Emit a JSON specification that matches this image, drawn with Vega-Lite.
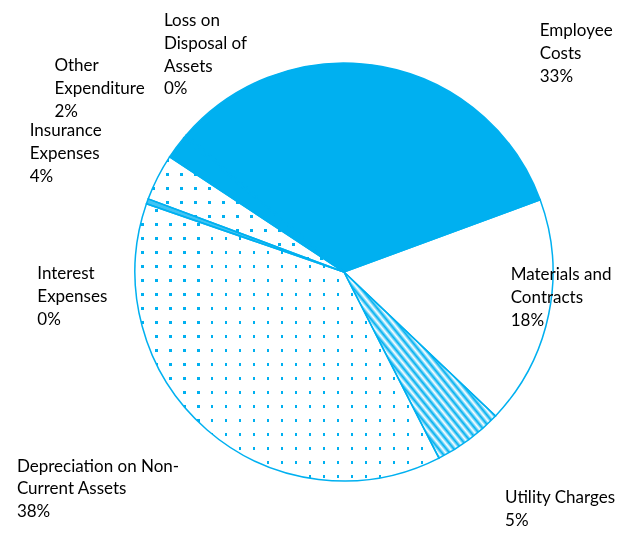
{
  "$schema": "https://vega.github.io/schema/vega-lite/v6.json",
  "width": 560,
  "height": 522,
  "autosize": {"type": "none"},
  "padding": {"left": 64, "right": 0, "top": 11, "bottom": 0},
  "background": "white",
  "view": {"stroke": null},
  "data": {
    "values": [
      {"cat": "Employee Costs", "value": 33.0, "order": 1, "label": "Employee\nCosts\n33%"},
      {"cat": "Materials and Contracts", "value": 17.7, "order": 2, "label": "Materials and\nContracts\n18%"},
      {"cat": "Utility Charges", "value": 5.4, "order": 3, "label": "Utility Charges\n5%"},
      {"cat": "Depreciation on Non-Current Assets", "value": 37.8, "order": 4, "label": "Depreciation on Non-\nCurrent Assets\n38%"},
      {"cat": "Interest Expenses", "value": 0.4, "order": 5, "label": "Interest\nExpenses\n0%"},
      {"cat": "Insurance Expenses", "value": 3.6, "order": 6, "label": "Insurance\nExpenses\n4%"},
      {"cat": "Other Expenditure", "value": 1.8, "order": 7, "label": "Other\nExpenditure\n2%"},
      {"cat": "Loss on Disposal of Assets", "value": 0.3, "order": 8, "label": "Loss on\nDisposal of\nAssets\n0%"}
    ]
  },
  "encoding": {
    "theta": {"field": "value", "type": "quantitative", "stack": true, "scale": {"range": [-0.8552, 5.4280]}},
    "order": {"field": "order", "type": "quantitative"}
  },
  "layer": [
    {
      "mark": {"type": "arc", "outerRadius": 209, "strokeWidth": 0},
      "encoding": {
        "fill": {
          "field": "cat", "type": "nominal", "legend": null,
          "scale": {
            "domain": ["Employee Costs", "Materials and Contracts", "Utility Charges", "Depreciation on Non-Current Assets", "Interest Expenses", "Insurance Expenses", "Other Expenditure", "Loss on Disposal of Assets"],
            "range": ["#00b0f0", "#ffffff", "#80d8f8", "#f0faff", "#40c4f4", "#f0faff", "#00b0f0", "#00b0f0"]
          },
          "condition": [
            {"test": "datum.cat === 'Utility Charges'", "value": {"gradient": "linear", "x1": 0, "y1": 1, "x2": 1, "y2": 0, "stops": [
              {"offset": 0, "color": "#ffffff"}, {"offset": 0.0125, "color": "#00b0f0"}, {"offset": 0.025, "color": "#ffffff"}, {"offset": 0.0375, "color": "#00b0f0"},
              {"offset": 0.05, "color": "#ffffff"}, {"offset": 0.0625, "color": "#00b0f0"}, {"offset": 0.075, "color": "#ffffff"}, {"offset": 0.0875, "color": "#00b0f0"},
              {"offset": 0.1, "color": "#ffffff"}, {"offset": 0.1125, "color": "#00b0f0"}, {"offset": 0.125, "color": "#ffffff"}, {"offset": 0.1375, "color": "#00b0f0"},
              {"offset": 0.15, "color": "#ffffff"}, {"offset": 0.1625, "color": "#00b0f0"}, {"offset": 0.175, "color": "#ffffff"}, {"offset": 0.1875, "color": "#00b0f0"},
              {"offset": 0.2, "color": "#ffffff"}, {"offset": 0.2125, "color": "#00b0f0"}, {"offset": 0.225, "color": "#ffffff"}, {"offset": 0.2375, "color": "#00b0f0"},
              {"offset": 0.25, "color": "#ffffff"}, {"offset": 0.2625, "color": "#00b0f0"}, {"offset": 0.275, "color": "#ffffff"}, {"offset": 0.2875, "color": "#00b0f0"},
              {"offset": 0.3, "color": "#ffffff"}, {"offset": 0.3125, "color": "#00b0f0"}, {"offset": 0.325, "color": "#ffffff"}, {"offset": 0.3375, "color": "#00b0f0"},
              {"offset": 0.35, "color": "#ffffff"}, {"offset": 0.3625, "color": "#00b0f0"}, {"offset": 0.375, "color": "#ffffff"}, {"offset": 0.3875, "color": "#00b0f0"},
              {"offset": 0.4, "color": "#ffffff"}, {"offset": 0.4125, "color": "#00b0f0"}, {"offset": 0.425, "color": "#ffffff"}, {"offset": 0.4375, "color": "#00b0f0"},
              {"offset": 0.45, "color": "#ffffff"}, {"offset": 0.4625, "color": "#00b0f0"}, {"offset": 0.475, "color": "#ffffff"}, {"offset": 0.4875, "color": "#00b0f0"},
              {"offset": 0.5, "color": "#ffffff"}, {"offset": 0.5125, "color": "#00b0f0"}, {"offset": 0.525, "color": "#ffffff"}, {"offset": 0.5375, "color": "#00b0f0"},
              {"offset": 0.55, "color": "#ffffff"}, {"offset": 0.5625, "color": "#00b0f0"}, {"offset": 0.575, "color": "#ffffff"}, {"offset": 0.5875, "color": "#00b0f0"},
              {"offset": 0.6, "color": "#ffffff"}, {"offset": 0.6125, "color": "#00b0f0"}, {"offset": 0.625, "color": "#ffffff"}, {"offset": 0.6375, "color": "#00b0f0"},
              {"offset": 0.65, "color": "#ffffff"}, {"offset": 0.6625, "color": "#00b0f0"}, {"offset": 0.675, "color": "#ffffff"}, {"offset": 0.6875, "color": "#00b0f0"},
              {"offset": 0.7, "color": "#ffffff"}, {"offset": 0.7125, "color": "#00b0f0"}, {"offset": 0.725, "color": "#ffffff"}, {"offset": 0.7375, "color": "#00b0f0"},
              {"offset": 0.75, "color": "#ffffff"}, {"offset": 0.7625, "color": "#00b0f0"}, {"offset": 0.775, "color": "#ffffff"}, {"offset": 0.7875, "color": "#00b0f0"},
              {"offset": 0.8, "color": "#ffffff"}, {"offset": 0.8125, "color": "#00b0f0"}, {"offset": 0.825, "color": "#ffffff"}, {"offset": 0.8375, "color": "#00b0f0"},
              {"offset": 0.85, "color": "#ffffff"}, {"offset": 0.8625, "color": "#00b0f0"}, {"offset": 0.875, "color": "#ffffff"}, {"offset": 0.8875, "color": "#00b0f0"},
              {"offset": 0.9, "color": "#ffffff"}, {"offset": 0.9125, "color": "#00b0f0"}, {"offset": 0.925, "color": "#ffffff"}, {"offset": 0.9375, "color": "#00b0f0"},
              {"offset": 0.95, "color": "#ffffff"}, {"offset": 0.9625, "color": "#00b0f0"}, {"offset": 0.975, "color": "#ffffff"}, {"offset": 0.9875, "color": "#00b0f0"},
              {"offset": 1, "color": "#ffffff"}
            ]}},
            {"test": "datum.cat === 'Depreciation on Non-Current Assets'", "value": {"gradient": "linear", "x1": 0, "y1": 0, "x2": 0, "y2": 1, "stops": [
              {"offset": 0.02, "color": "#ffffff"}, {"offset": 0.02, "color": "#00b0f0"}, {"offset": 0.029, "color": "#00b0f0"}, {"offset": 0.029, "color": "#ffffff"},
              {"offset": 0.0705, "color": "#ffffff"}, {"offset": 0.0705, "color": "#00b0f0"}, {"offset": 0.0795, "color": "#00b0f0"}, {"offset": 0.0795, "color": "#ffffff"},
              {"offset": 0.121, "color": "#ffffff"}, {"offset": 0.121, "color": "#00b0f0"}, {"offset": 0.13, "color": "#00b0f0"}, {"offset": 0.13, "color": "#ffffff"},
              {"offset": 0.1715, "color": "#ffffff"}, {"offset": 0.1715, "color": "#00b0f0"}, {"offset": 0.1805, "color": "#00b0f0"}, {"offset": 0.1805, "color": "#ffffff"},
              {"offset": 0.222, "color": "#ffffff"}, {"offset": 0.222, "color": "#00b0f0"}, {"offset": 0.231, "color": "#00b0f0"}, {"offset": 0.231, "color": "#ffffff"},
              {"offset": 0.2725, "color": "#ffffff"}, {"offset": 0.2725, "color": "#00b0f0"}, {"offset": 0.2815, "color": "#00b0f0"}, {"offset": 0.2815, "color": "#ffffff"},
              {"offset": 0.323, "color": "#ffffff"}, {"offset": 0.323, "color": "#00b0f0"}, {"offset": 0.332, "color": "#00b0f0"}, {"offset": 0.332, "color": "#ffffff"},
              {"offset": 0.3735, "color": "#ffffff"}, {"offset": 0.3735, "color": "#00b0f0"}, {"offset": 0.3825, "color": "#00b0f0"}, {"offset": 0.3825, "color": "#ffffff"},
              {"offset": 0.424, "color": "#ffffff"}, {"offset": 0.424, "color": "#00b0f0"}, {"offset": 0.433, "color": "#00b0f0"}, {"offset": 0.433, "color": "#ffffff"},
              {"offset": 0.4745, "color": "#ffffff"}, {"offset": 0.4745, "color": "#00b0f0"}, {"offset": 0.4835, "color": "#00b0f0"}, {"offset": 0.4835, "color": "#ffffff"},
              {"offset": 0.525, "color": "#ffffff"}, {"offset": 0.525, "color": "#00b0f0"}, {"offset": 0.534, "color": "#00b0f0"}, {"offset": 0.534, "color": "#ffffff"},
              {"offset": 0.5755, "color": "#ffffff"}, {"offset": 0.5755, "color": "#00b0f0"}, {"offset": 0.5845, "color": "#00b0f0"}, {"offset": 0.5845, "color": "#ffffff"},
              {"offset": 0.626, "color": "#ffffff"}, {"offset": 0.626, "color": "#00b0f0"}, {"offset": 0.635, "color": "#00b0f0"}, {"offset": 0.635, "color": "#ffffff"},
              {"offset": 0.6765, "color": "#ffffff"}, {"offset": 0.6765, "color": "#00b0f0"}, {"offset": 0.6855, "color": "#00b0f0"}, {"offset": 0.6855, "color": "#ffffff"},
              {"offset": 0.727, "color": "#ffffff"}, {"offset": 0.727, "color": "#00b0f0"}, {"offset": 0.736, "color": "#00b0f0"}, {"offset": 0.736, "color": "#ffffff"},
              {"offset": 0.7775, "color": "#ffffff"}, {"offset": 0.7775, "color": "#00b0f0"}, {"offset": 0.7865, "color": "#00b0f0"}, {"offset": 0.7865, "color": "#ffffff"},
              {"offset": 0.828, "color": "#ffffff"}, {"offset": 0.828, "color": "#00b0f0"}, {"offset": 0.837, "color": "#00b0f0"}, {"offset": 0.837, "color": "#ffffff"},
              {"offset": 0.8785, "color": "#ffffff"}, {"offset": 0.8785, "color": "#00b0f0"}, {"offset": 0.8875, "color": "#00b0f0"}, {"offset": 0.8875, "color": "#ffffff"},
              {"offset": 0.929, "color": "#ffffff"}, {"offset": 0.929, "color": "#00b0f0"}, {"offset": 0.938, "color": "#00b0f0"}, {"offset": 0.938, "color": "#ffffff"},
              {"offset": 0.9795, "color": "#ffffff"}, {"offset": 0.9795, "color": "#00b0f0"}, {"offset": 0.9885, "color": "#00b0f0"}, {"offset": 0.9885, "color": "#ffffff"}
            ]}},
            {"test": "datum.cat === 'Insurance Expenses'", "value": {"gradient": "linear", "x1": 0, "y1": 0, "x2": 0, "y2": 1, "stops": [
              {"offset": 0.02, "color": "#ffffff"}, {"offset": 0.02, "color": "#00b0f0"}, {"offset": 0.0417, "color": "#00b0f0"}, {"offset": 0.0417, "color": "#ffffff"},
              {"offset": 0.1417, "color": "#ffffff"}, {"offset": 0.1417, "color": "#00b0f0"}, {"offset": 0.1634, "color": "#00b0f0"}, {"offset": 0.1634, "color": "#ffffff"},
              {"offset": 0.2634, "color": "#ffffff"}, {"offset": 0.2634, "color": "#00b0f0"}, {"offset": 0.2851, "color": "#00b0f0"}, {"offset": 0.2851, "color": "#ffffff"},
              {"offset": 0.3851, "color": "#ffffff"}, {"offset": 0.3851, "color": "#00b0f0"}, {"offset": 0.4068, "color": "#00b0f0"}, {"offset": 0.4068, "color": "#ffffff"},
              {"offset": 0.5068, "color": "#ffffff"}, {"offset": 0.5068, "color": "#00b0f0"}, {"offset": 0.5285, "color": "#00b0f0"}, {"offset": 0.5285, "color": "#ffffff"},
              {"offset": 0.6285, "color": "#ffffff"}, {"offset": 0.6285, "color": "#00b0f0"}, {"offset": 0.6502, "color": "#00b0f0"}, {"offset": 0.6502, "color": "#ffffff"},
              {"offset": 0.7502, "color": "#ffffff"}, {"offset": 0.7502, "color": "#00b0f0"}, {"offset": 0.7719, "color": "#00b0f0"}, {"offset": 0.7719, "color": "#ffffff"},
              {"offset": 0.8719, "color": "#ffffff"}, {"offset": 0.8719, "color": "#00b0f0"}, {"offset": 0.8936, "color": "#00b0f0"}, {"offset": 0.8936, "color": "#ffffff"}
            ]}}
          ]
        }
      }
    },
    {
      "mark": {"type": "arc", "outerRadius": 209, "strokeWidth": 0, "blend": "lighten"},
      "encoding": {
        "fill": {
          "condition": [
            {"test": "datum.cat === 'Depreciation on Non-Current Assets'", "value": {"gradient": "linear", "x1": 0, "y1": 0, "x2": 1, "y2": 0, "stops": [
              {"offset": 0.02, "color": "#ffffff"}, {"offset": 0.02, "color": "#00b0f0"}, {"offset": 0.0282, "color": "#00b0f0"}, {"offset": 0.0282, "color": "#ffffff"},
              {"offset": 0.066, "color": "#ffffff"}, {"offset": 0.066, "color": "#00b0f0"}, {"offset": 0.0742, "color": "#00b0f0"}, {"offset": 0.0742, "color": "#ffffff"},
              {"offset": 0.112, "color": "#ffffff"}, {"offset": 0.112, "color": "#00b0f0"}, {"offset": 0.1202, "color": "#00b0f0"}, {"offset": 0.1202, "color": "#ffffff"},
              {"offset": 0.158, "color": "#ffffff"}, {"offset": 0.158, "color": "#00b0f0"}, {"offset": 0.1662, "color": "#00b0f0"}, {"offset": 0.1662, "color": "#ffffff"},
              {"offset": 0.204, "color": "#ffffff"}, {"offset": 0.204, "color": "#00b0f0"}, {"offset": 0.2122, "color": "#00b0f0"}, {"offset": 0.2122, "color": "#ffffff"},
              {"offset": 0.25, "color": "#ffffff"}, {"offset": 0.25, "color": "#00b0f0"}, {"offset": 0.2582, "color": "#00b0f0"}, {"offset": 0.2582, "color": "#ffffff"},
              {"offset": 0.296, "color": "#ffffff"}, {"offset": 0.296, "color": "#00b0f0"}, {"offset": 0.3042, "color": "#00b0f0"}, {"offset": 0.3042, "color": "#ffffff"},
              {"offset": 0.342, "color": "#ffffff"}, {"offset": 0.342, "color": "#00b0f0"}, {"offset": 0.3502, "color": "#00b0f0"}, {"offset": 0.3502, "color": "#ffffff"},
              {"offset": 0.388, "color": "#ffffff"}, {"offset": 0.388, "color": "#00b0f0"}, {"offset": 0.3962, "color": "#00b0f0"}, {"offset": 0.3962, "color": "#ffffff"},
              {"offset": 0.434, "color": "#ffffff"}, {"offset": 0.434, "color": "#00b0f0"}, {"offset": 0.4422, "color": "#00b0f0"}, {"offset": 0.4422, "color": "#ffffff"},
              {"offset": 0.48, "color": "#ffffff"}, {"offset": 0.48, "color": "#00b0f0"}, {"offset": 0.4882, "color": "#00b0f0"}, {"offset": 0.4882, "color": "#ffffff"},
              {"offset": 0.526, "color": "#ffffff"}, {"offset": 0.526, "color": "#00b0f0"}, {"offset": 0.5342, "color": "#00b0f0"}, {"offset": 0.5342, "color": "#ffffff"},
              {"offset": 0.572, "color": "#ffffff"}, {"offset": 0.572, "color": "#00b0f0"}, {"offset": 0.5802, "color": "#00b0f0"}, {"offset": 0.5802, "color": "#ffffff"},
              {"offset": 0.618, "color": "#ffffff"}, {"offset": 0.618, "color": "#00b0f0"}, {"offset": 0.6262, "color": "#00b0f0"}, {"offset": 0.6262, "color": "#ffffff"},
              {"offset": 0.664, "color": "#ffffff"}, {"offset": 0.664, "color": "#00b0f0"}, {"offset": 0.6722, "color": "#00b0f0"}, {"offset": 0.6722, "color": "#ffffff"},
              {"offset": 0.71, "color": "#ffffff"}, {"offset": 0.71, "color": "#00b0f0"}, {"offset": 0.7182, "color": "#00b0f0"}, {"offset": 0.7182, "color": "#ffffff"},
              {"offset": 0.756, "color": "#ffffff"}, {"offset": 0.756, "color": "#00b0f0"}, {"offset": 0.7642, "color": "#00b0f0"}, {"offset": 0.7642, "color": "#ffffff"},
              {"offset": 0.802, "color": "#ffffff"}, {"offset": 0.802, "color": "#00b0f0"}, {"offset": 0.8102, "color": "#00b0f0"}, {"offset": 0.8102, "color": "#ffffff"},
              {"offset": 0.848, "color": "#ffffff"}, {"offset": 0.848, "color": "#00b0f0"}, {"offset": 0.8562, "color": "#00b0f0"}, {"offset": 0.8562, "color": "#ffffff"},
              {"offset": 0.894, "color": "#ffffff"}, {"offset": 0.894, "color": "#00b0f0"}, {"offset": 0.9022, "color": "#00b0f0"}, {"offset": 0.9022, "color": "#ffffff"},
              {"offset": 0.94, "color": "#ffffff"}, {"offset": 0.94, "color": "#00b0f0"}, {"offset": 0.9482, "color": "#00b0f0"}, {"offset": 0.9482, "color": "#ffffff"},
              {"offset": 0.986, "color": "#ffffff"}, {"offset": 0.986, "color": "#00b0f0"}, {"offset": 0.9942, "color": "#00b0f0"}, {"offset": 0.9942, "color": "#ffffff"}
            ]}},
            {"test": "datum.cat === 'Insurance Expenses'", "value": {"gradient": "linear", "x1": 0, "y1": 0, "x2": 1, "y2": 0, "stops": [
              {"offset": 0.02, "color": "#ffffff"}, {"offset": 0.02, "color": "#00b0f0"}, {"offset": 0.0328, "color": "#00b0f0"}, {"offset": 0.0328, "color": "#ffffff"},
              {"offset": 0.0915, "color": "#ffffff"}, {"offset": 0.0915, "color": "#00b0f0"}, {"offset": 0.1043, "color": "#00b0f0"}, {"offset": 0.1043, "color": "#ffffff"},
              {"offset": 0.163, "color": "#ffffff"}, {"offset": 0.163, "color": "#00b0f0"}, {"offset": 0.1758, "color": "#00b0f0"}, {"offset": 0.1758, "color": "#ffffff"},
              {"offset": 0.2345, "color": "#ffffff"}, {"offset": 0.2345, "color": "#00b0f0"}, {"offset": 0.2473, "color": "#00b0f0"}, {"offset": 0.2473, "color": "#ffffff"},
              {"offset": 0.306, "color": "#ffffff"}, {"offset": 0.306, "color": "#00b0f0"}, {"offset": 0.3188, "color": "#00b0f0"}, {"offset": 0.3188, "color": "#ffffff"},
              {"offset": 0.3775, "color": "#ffffff"}, {"offset": 0.3775, "color": "#00b0f0"}, {"offset": 0.3903, "color": "#00b0f0"}, {"offset": 0.3903, "color": "#ffffff"},
              {"offset": 0.449, "color": "#ffffff"}, {"offset": 0.449, "color": "#00b0f0"}, {"offset": 0.4618, "color": "#00b0f0"}, {"offset": 0.4618, "color": "#ffffff"},
              {"offset": 0.5205, "color": "#ffffff"}, {"offset": 0.5205, "color": "#00b0f0"}, {"offset": 0.5333, "color": "#00b0f0"}, {"offset": 0.5333, "color": "#ffffff"},
              {"offset": 0.592, "color": "#ffffff"}, {"offset": 0.592, "color": "#00b0f0"}, {"offset": 0.6048, "color": "#00b0f0"}, {"offset": 0.6048, "color": "#ffffff"},
              {"offset": 0.6635, "color": "#ffffff"}, {"offset": 0.6635, "color": "#00b0f0"}, {"offset": 0.6763, "color": "#00b0f0"}, {"offset": 0.6763, "color": "#ffffff"},
              {"offset": 0.735, "color": "#ffffff"}, {"offset": 0.735, "color": "#00b0f0"}, {"offset": 0.7478, "color": "#00b0f0"}, {"offset": 0.7478, "color": "#ffffff"},
              {"offset": 0.8065, "color": "#ffffff"}, {"offset": 0.8065, "color": "#00b0f0"}, {"offset": 0.8193, "color": "#00b0f0"}, {"offset": 0.8193, "color": "#ffffff"},
              {"offset": 0.878, "color": "#ffffff"}, {"offset": 0.878, "color": "#00b0f0"}, {"offset": 0.8908, "color": "#00b0f0"}, {"offset": 0.8908, "color": "#ffffff"},
              {"offset": 0.9495, "color": "#ffffff"}, {"offset": 0.9495, "color": "#00b0f0"}, {"offset": 0.9623, "color": "#00b0f0"}, {"offset": 0.9623, "color": "#ffffff"}
            ]}}
          ],
          "value": "transparent"
        }
      }
    },
    {
      "mark": {"type": "arc", "outerRadius": 209, "fill": "transparent", "stroke": "#00b0f0", "strokeWidth": 1.5}
    },
    {
      "mark": {"type": "text", "radius": 209, "align": "left", "baseline": "top", "dx": 158, "dy": -43, "font": "Lato", "fontSize": 17, "lineHeight": 22.7, "lineBreak": "\n", "color": "#000000"},
      "encoding": {"text": {"condition": {"test": "datum.cat === 'Employee Costs'", "field": "label", "type": "nominal"}, "value": ""}}
    },
    {
      "mark": {"type": "text", "radius": 209, "align": "left", "baseline": "top", "dx": -38, "dy": -47, "font": "Lato", "fontSize": 17, "lineHeight": 22.7, "lineBreak": "\n", "color": "#000000"},
      "encoding": {"text": {"condition": {"test": "datum.cat === 'Materials and Contracts'", "field": "label", "type": "nominal"}, "value": ""}}
    },
    {
      "mark": {"type": "text", "radius": 209, "align": "left", "baseline": "top", "dx": 36, "dy": 51, "font": "Lato", "fontSize": 17, "lineHeight": 22.7, "lineBreak": "\n", "color": "#000000"},
      "encoding": {"text": {"condition": {"test": "datum.cat === 'Utility Charges'", "field": "label", "type": "nominal"}, "value": ""}}
    },
    {
      "mark": {"type": "text", "radius": 209, "align": "left", "baseline": "top", "dx": -190, "dy": 29, "font": "Lato", "fontSize": 17, "lineHeight": 22.7, "lineBreak": "\n", "color": "#000000"},
      "encoding": {"text": {"condition": {"test": "datum.cat === 'Depreciation on Non-Current Assets'", "field": "label", "type": "nominal"}, "value": ""}}
    },
    {
      "mark": {"type": "text", "radius": 209, "align": "left", "baseline": "top", "dx": -110, "dy": 65, "font": "Lato", "fontSize": 17, "lineHeight": 22.7, "lineBreak": "\n", "color": "#000000"},
      "encoding": {"text": {"condition": {"test": "datum.cat === 'Interest Expenses'", "field": "label", "type": "nominal"}, "value": ""}}
    },
    {
      "mark": {"type": "text", "radius": 209, "align": "left", "baseline": "top", "dx": -128, "dy": -54, "font": "Lato", "fontSize": 17, "lineHeight": 22.7, "lineBreak": "\n", "color": "#000000"},
      "encoding": {"text": {"condition": {"test": "datum.cat === 'Insurance Expenses'", "field": "label", "type": "nominal"}, "value": ""}}
    },
    {
      "mark": {"type": "text", "radius": 209, "align": "left", "baseline": "top", "dx": -122, "dy": -89, "font": "Lato", "fontSize": 17, "lineHeight": 22.7, "lineBreak": "\n", "color": "#000000"},
      "encoding": {"text": {"condition": {"test": "datum.cat === 'Other Expenditure'", "field": "label", "type": "nominal"}, "value": ""}}
    },
    {
      "mark": {"type": "text", "radius": 209, "align": "left", "baseline": "top", "dx": -21, "dy": -123, "font": "Lato", "fontSize": 17, "lineHeight": 22.7, "lineBreak": "\n", "color": "#000000"},
      "encoding": {"text": {"condition": {"test": "datum.cat === 'Loss on Disposal of Assets'", "field": "label", "type": "nominal"}, "value": ""}}
    }
  ]
}
